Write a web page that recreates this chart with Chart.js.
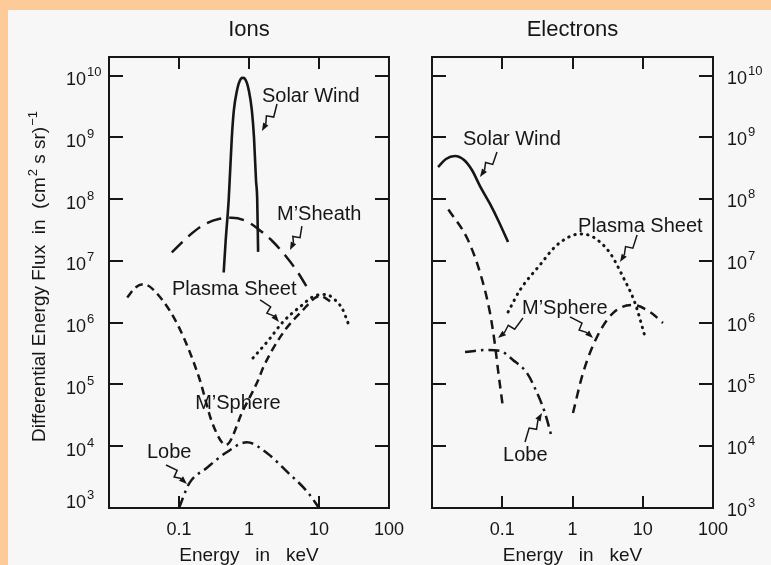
<!DOCTYPE html>
<html>
<head>
<meta charset="utf-8">
<script src="https://cdn.jsdelivr.net/npm/chart.js@4.4.1/dist/chart.umd.min.js"></script>
<style>
  html, body { margin: 0; padding: 0; }
  body { width: 771px; height: 565px; background: #fdcb99; position: relative; overflow: hidden; }
  #panel { position: absolute; left: 8px; top: 10px; right: 0; bottom: 0; background: #f7f7f7; }
  canvas { position: absolute; top: 0; }
  #ions { left: 0; }
  #electrons { left: 415px; }
</style>
</head>
<body>
<div id="panel"></div>
<canvas id="ions" width="415" height="565"></canvas>
<canvas id="electrons" width="356" height="565"></canvas>
<script>
// Axis ticks
var xTicks = [0.1, 1, 10, 100];
var yTicks = [1e3, 1e4, 1e5, 1e6, 1e7, 1e8, 1e9, 1e10];
var yExps = ['3', '4', '5', '6', '7', '8', '9', '10'];

// Ions: energy (keV) and flux
var ionSolarWindE = [0.435, 0.464, 0.513, 0.568, 0.607, 0.67, 0.766, 0.818, 0.875, 1.0, 1.1, 1.18, 1.26, 1.31, 1.35];
var ionSolarWindF = [6.5e6, 2.1e7, 9.8e7, 9.8e8, 2.7e9, 5.6e9, 8.9e9, 9.2e9, 8.9e9, 5.6e9, 2.7e9, 9.8e8, 2.0e8, 1.0e8, 1.4e7];

var ionSheathE = [0.079, 0.14, 0.23, 0.38, 0.568, 0.875, 1.35, 2.15, 3.3, 5.0, 7.2];
var ionSheathF = [1.37e7, 2.57e7, 3.9e7, 4.8e7, 5.0e7, 4.5e7, 3.3e7, 2.1e7, 1.22e7, 6.5e6, 3.3e6];

var ionSphereE = [0.0182, 0.0238, 0.0311, 0.0513, 0.1, 0.195, 0.30, 0.469, 0.82, 1.35, 1.6, 3.1, 5.5, 10.3, 15.8];
var ionSphereF = [2.56e6, 3.7e6, 4.2e6, 2.76e6, 8.4e5, 1.26e5, 2.36e4, 1.05e4, 3.8e4, 1.17e5, 1.9e5, 6.97e5, 1.47e6, 2.7e6, 2.08e6];

var ionPlasmaE = [1.14, 1.9, 3.06, 5.35, 9.4, 12.5, 15.3, 18.7, 21.3, 26];
var ionPlasmaF = [2.68e5, 5.2e5, 1.03e6, 1.8e6, 2.8e6, 2.85e6, 2.6e6, 2.08e6, 1.73e6, 9.9e5];

var ionLobeE = [0.1, 0.14, 0.246, 0.48, 0.935, 1.82, 3.55, 6.9, 10];
var ionLobeF = [1.0e3, 2.5e3, 4.4e3, 8.0e3, 1.16e4, 7.7e3, 3.8e3, 1.8e3, 1.0e3];

// Electrons
var eleSolarWindE = [0.0122, 0.0158, 0.0212, 0.0286, 0.037, 0.0482, 0.067, 0.0898, 0.121];
var eleSolarWindF = [3.31e8, 4.47e8, 5.0e8, 4.3e8, 2.96e8, 1.63e8, 8.35e7, 4.27e7, 2.02e7];

// null = break between the two branches
var eleSphereE = [0.0171, 0.0318, 0.0486, 0.067, 0.0789, 0.0871, 0.1026, 0.32, 1.016, 1.41, 2.23, 3.77, 7.27, 12.7, 19.4];
var eleSphereF = [6.8e7, 2.3e7, 6.3e6, 1.43e6, 4.35e5, 1.71e5, 4.16e4, null, 3.45e4, 1.53e5, 5.87e5, 1.43e6, 1.93e6, 1.49e6, 9.9e5];

var elePlasmaE = [0.121, 0.179, 0.344, 0.602, 1.28, 1.96, 3.42, 5.24, 7.76, 10.8];
var elePlasmaF = [1.49e6, 3.38e6, 8.6e6, 1.81e7, 2.73e7, 2.44e7, 1.34e7, 5.5e6, 2.08e6, 5.87e5];

var eleLobeE = [0.0295, 0.0607, 0.093, 0.142, 0.225, 0.313, 0.406, 0.51];
var eleLobeF = [3.36e5, 3.61e5, 3.5e5, 2.49e5, 1.53e5, 7.3e4, 3.45e4, 1.36e4];

// Labels and lightning arrows, anchored in (keV, flux)
var ionNotes = [
    { text: 'Solar Wind', e: 1.53, f: 3.74e9 },
    { text: 'M\u2019Sheath', e: 2.51, f: 4.6e7 },
    { text: 'Plasma Sheet', e: 0.0794, f: 2.8e6 },
    { text: 'M\u2019Sphere', e: 0.17, f: 4.0e4 },
    { text: 'Lobe', e: 0.0349, f: 6.45e3 }
];
var ionArrows = [
    [2.51, 3.47e9, 1.53, 1.27e9],
    [5.7, 3.67e7, 3.85, 1.5e7],
    [1.44, 2.33e6, 2.68, 1.03e6],
    [0.0652, 4.97e3, 0.13, 2.45e3]
];
var eleNotes = [
    { text: 'Solar Wind', e: 0.0276, f: 7.5e8 },
    { text: 'Plasma Sheet', e: 1.2, f: 2.94e7 },
    { text: 'M\u2019Sphere', e: 0.191, f: 1.38e6 },
    { text: 'Lobe', e: 0.1026, f: 5.8e3 }
];
var eleArrows = [
    [0.0841, 5.8e8, 0.0482, 2.29e8],
    [8.3, 2.63e7, 4.74, 9.6e6],
    [0.197, 1.19e6, 0.087, 5.65e5],
    [0.92, 1.24e6, 1.96, 5.65e5],
    [0.211, 1.17e4, 0.368, 3.45e4]
];

var ink = '#161616';
var family = "'Liberation Sans', Arial, Helvetica, sans-serif";
Chart.defaults.font.family = family;
Chart.defaults.color = ink;

function serie(energias, flujos, dash, cap, width) {
    return {
        data: energias.map(function (e, i) { return { x: e, y: flujos[i] }; }),
        borderColor: ink,
        borderWidth: width || 2.5,
        borderDash: dash || [],
        borderCapStyle: cap || 'butt',
        pointRadius: 0,
        fill: false,
        cubicInterpolationMode: 'monotone',
        spanGaps: false
    };
}

// text with superscripts: parts = [[text, isSup], ...]
function richWidth(ctx, parts, size, supSize) {
    var w = 0;
    parts.forEach(function (p) {
        ctx.font = (p[1] ? supSize : size) + 'px ' + family;
        w += ctx.measureText(p[0]).width + (p[1] ? 1 : 0);
    });
    return w;
}
function drawRich(ctx, parts, x, y, size, supSize, lift) {
    parts.forEach(function (p) {
        ctx.font = (p[1] ? supSize : size) + 'px ' + family;
        if (p[1]) x += 1;
        ctx.fillText(p[0], x, p[1] ? y - lift : y);
        x += ctx.measureText(p[0]).width;
    });
}

function drawBolt(ctx, x1, y1, x2, y2) {
    var dx = x2 - x1, dy = y2 - y1;
    var len = Math.sqrt(dx * dx + dy * dy);
    var ux = dx / len, uy = dy / len, nx = -uy, ny = ux;
    function p(t, o) { return [x1 + dx * t + nx * o, y1 + dy * t + ny * o]; }
    var a = p(0.42, -3.5), b = p(0.5, 3.5);
    var hx = x2 - ux * 8, hy = y2 - uy * 8;
    ctx.beginPath();
    ctx.moveTo(x1, y1);
    ctx.lineTo(a[0], a[1]);
    ctx.lineTo(b[0], b[1]);
    ctx.lineTo(hx, hy);
    ctx.stroke();
    ctx.beginPath();
    ctx.moveTo(x2, y2);
    ctx.lineTo(hx + nx * 3, hy + ny * 3);
    ctx.lineTo(hx - nx * 3, hy - ny * 3);
    ctx.closePath();
    ctx.fill();
}

// Frame, inward ticks, 10^n labels, y title and annotations
var framePlugin = {
    id: 'frame',
    afterDatasetsDraw: function (chart, args, opts) {
        var ctx = chart.ctx;
        var area = chart.chartArea;
        var xs = chart.scales.x;
        var ys = chart.scales.y;
        ctx.save();
        ctx.strokeStyle = ink;
        ctx.fillStyle = ink;
        ctx.lineWidth = 2;
        ctx.strokeRect(area.left, area.top, area.right - area.left, area.bottom - area.top);

        ctx.beginPath();
        yTicks.forEach(function (v) {
            var y = Math.round(ys.getPixelForValue(v));
            ctx.moveTo(area.left, y); ctx.lineTo(area.left + 14, y);
            ctx.moveTo(area.right, y); ctx.lineTo(area.right - 14, y);
        });
        opts.topTicks.forEach(function (v) {
            var x = Math.round(xs.getPixelForValue(v));
            ctx.moveTo(x, area.top); ctx.lineTo(x, area.top + 12);
        });
        opts.bottomTicks.forEach(function (v) {
            var x = Math.round(xs.getPixelForValue(v));
            ctx.moveTo(x, area.bottom); ctx.lineTo(x, area.bottom - 12);
        });
        ctx.stroke();

        ctx.textAlign = 'left';
        ctx.textBaseline = 'alphabetic';
        var lx = opts.side === 'left' ? area.left - 43 : area.right + 14;
        yTicks.forEach(function (v, i) {
            var off = opts.labelDrop;
            if (i === 0) off = opts.firstDrop;
            drawRich(ctx, [['10', 0], [yExps[i], 1]], lx, ys.getPixelForValue(v) + off, 18, 13, 9);
        });

        if (opts.yTitle) {
            var parts = [['Differential Energy Flux  in  (cm', 0], ['2', 1], [' s sr)', 0], ['\u22121', 1]];
            ctx.save();
            ctx.translate(area.left - 64, (area.top + area.bottom) / 2 - 6);
            ctx.rotate(-Math.PI / 2);
            var w = richWidth(ctx, parts, 19, 13);
            drawRich(ctx, parts, -w / 2, 0, 19, 13, 8);
            ctx.restore();
        }

        ctx.font = '20px ' + family;
        opts.notes.forEach(function (n) {
            ctx.fillText(n.text, xs.getPixelForValue(n.e), ys.getPixelForValue(n.f));
        });
        ctx.lineWidth = 1.5;
        opts.arrows.forEach(function (a) {
            drawBolt(ctx, xs.getPixelForValue(a[0]), ys.getPixelForValue(a[1]),
                xs.getPixelForValue(a[2]), ys.getPixelForValue(a[3]));
        });
        ctx.restore();
    }
};

function crearGrafica(id, titulo, lado, datasets, frameOpts) {
    var ctx = document.getElementById(id).getContext('2d');
    return new Chart(ctx, {
        type: 'line',
        data: { datasets: datasets },
        plugins: [framePlugin],
        options: {
            responsive: false,
            animation: false,
            events: [],
            layout: {
                padding: lado === 'left' ? { left: 0, right: 26, top: 0, bottom: 0 } : { left: 17, right: 0, top: 0, bottom: 0 }
            },
            plugins: {
                legend: { display: false },
                tooltip: { enabled: false },
                title: {
                    display: true,
                    text: titulo,
                    fullSize: false,
                    color: ink,
                    font: { size: 22, weight: 'normal' },
                    padding: { top: 17, bottom: 13.6 }
                },
                frame: frameOpts
            },
            scales: {
                x: {
                    type: 'logarithmic',
                    position: 'bottom',
                    min: 0.01,
                    max: 100,
                    grid: { display: false, drawTicks: false },
                    border: { display: false },
                    afterBuildTicks: function (s) {
                        s.ticks = xTicks.map(function (v) { return { value: v }; });
                    },
                    afterFit: function (s) { s.height = 57; },
                    ticks: {
                        autoSkip: false,
                        maxRotation: 0,
                        padding: 11,
                        color: ink,
                        font: { size: 18 },
                        callback: function (v) { return String(v); }
                    },
                    title: {
                        display: true,
                        text: 'Energy   in   keV',
                        color: ink,
                        font: { size: 19, lineHeight: 1 },
                        padding: { top: 0, bottom: 0 }
                    }
                },
                y: {
                    type: 'logarithmic',
                    position: lado,
                    min: 1e3,
                    max: 2e10,
                    grid: { display: false, drawTicks: false },
                    border: { display: false },
                    ticks: { display: false },
                    afterFit: function (s) { s.width = lado === 'left' ? 109 : 58; }
                }
            }
        }
    });
}

var graficaIones = crearGrafica('ions', 'Ions', 'left', [
    serie(ionSolarWindE, ionSolarWindF, [], 'butt', 2.6),
    serie(ionSheathE, ionSheathF, [15, 8]),
    serie(ionSphereE, ionSphereF, [8, 5]),
    serie(ionPlasmaE, ionPlasmaF, [0.5, 6], 'round', 3),
    serie(ionLobeE, ionLobeF, [11, 5, 2.5, 5])
], {
    side: 'left', yTitle: true, labelDrop: 9.5, firstDrop: 0,
    topTicks: [0.1, 1, 10], bottomTicks: [0.1, 10],
    notes: ionNotes, arrows: ionArrows
});

var graficaElectrones = crearGrafica('electrons', 'Electrons', 'right', [
    serie(eleSolarWindE, eleSolarWindF, [], 'butt', 2.6),
    serie(eleSphereE, eleSphereF, [9, 6]),
    serie(elePlasmaE, elePlasmaF, [0.5, 6], 'round', 3),
    serie(eleLobeE, eleLobeF, [11, 5, 2.5, 5])
], {
    side: 'right', yTitle: false, labelDrop: 8, firstDrop: 8,
    topTicks: [0.1, 1, 10], bottomTicks: [0.1, 1, 10],
    notes: eleNotes, arrows: eleArrows
});
</script>
</body>
</html>
